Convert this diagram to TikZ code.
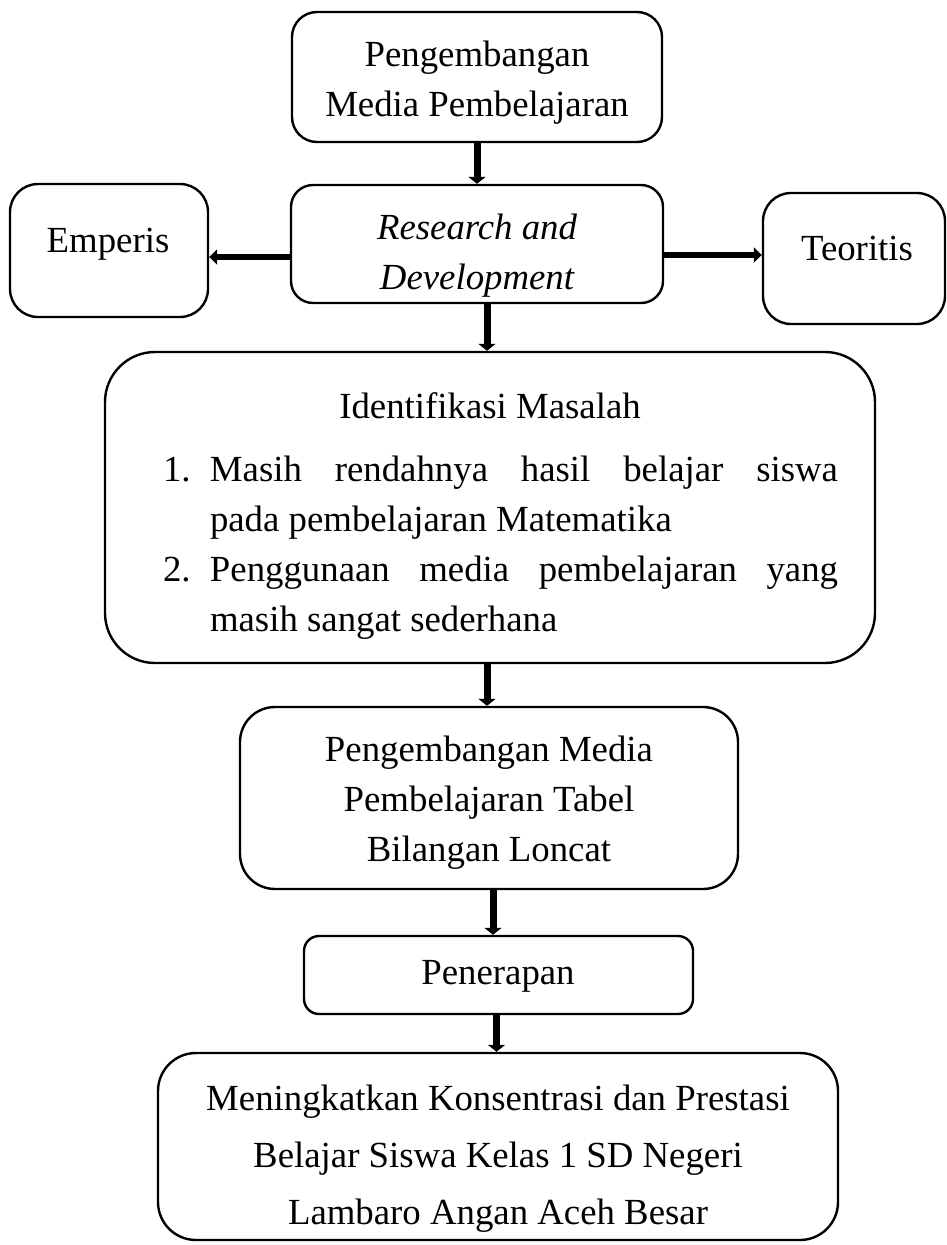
\documentclass[tikz,border=0pt]{standalone}
\usepackage{fontspec}
\setmainfont{Liberation Serif}
\usetikzlibrary{arrows.meta,calc}
\begin{document}
\begin{tikzpicture}[x=1pt,y=-1pt,
  box/.style={draw, line width=2.4pt, inner sep=0pt, anchor=center},
  txt/.style={font=\fontsize{36.8}{50}\selectfont, align=center, inner sep=0pt},
  arr/.style={line width=7pt, -{Triangle[width=17pt,length=7pt]}},
  harr/.style={line width=6pt, -{Triangle[width=15pt,length=8pt]}}]
\useasboundingbox (0,0) rectangle (947,1245);

% boxes
\node[box, minimum width=370pt, minimum height=130pt, rounded corners=25pt] (b1) at (477,77) {};
\node[box, minimum width=372pt, minimum height=118pt, rounded corners=22pt] (b2) at (477,244) {};
\node[box, minimum width=198pt, minimum height=133pt, rounded corners=28pt] (em) at (109,250.5) {};
\node[box, minimum width=182pt, minimum height=131pt, rounded corners=28pt] (te) at (854,258.5) {};
\node[box, minimum width=770pt, minimum height=311pt, rounded corners=50pt] (b3) at (490,507.5) {};
\node[box, minimum width=498pt, minimum height=182pt, rounded corners=35pt] (b4) at (489,798) {};
\node[box, minimum width=389pt, minimum height=78pt, rounded corners=15pt] (b5) at (498.5,975) {};
\node[box, minimum width=680pt, minimum height=187pt, rounded corners=38pt] (b6) at (498,1146.5) {};

% texts
\node[txt] (t1) at (477,83) {Pengembangan\\Media Pembelajaran};
\node[txt] (t2) at (477,256) {\itshape Research and\\\itshape Development};
\node[txt] (tem) at (108,244) {Emperis};
\node[txt] (tte) at (857,248) {Teoritis};
\node[txt] (t3) at (490,406) {Identifikasi Masalah};
\node[txt, text width=675pt, align=justify] (t3l) at (500.5,548) {%
  \hangindent=47pt\hangafter=1\makebox[47pt][l]{1.}Masih rendahnya hasil belajar siswa\linebreak pada pembelajaran Matematika\par
  \hangindent=47pt\hangafter=1\makebox[47pt][l]{2.}Penggunaan media pembelajaran yang\linebreak masih sangat sederhana\par};
\node[txt] (t4) at (489,803) {Pengembangan Media\\Pembelajaran Tabel\\Bilangan Loncat};
\node[txt] (t5) at (498,976) {Penerapan};
\node[txt, font=\fontsize{36.8}{57}\selectfont] (t6) at (498,1159) {Meningkatkan Konsentrasi dan Prestasi\\Belajar Siswa Kelas 1 SD Negeri\\Lambaro Angan Aceh Besar};

% connectors
\draw[arr] (b1.south) -- (b2.north);
\coordinate (l1) at ($(b2.west)+(0,13)$);
\draw[harr] (l1) -- (l1 -| em.east);
\coordinate (r1) at ($(b2.east)+(0,11)$);
\draw[harr] (r1) -- (r1 -| te.west);
\coordinate (a2) at ($(b2.south)+(10,0)$);
\draw[arr] (a2) -- (a2 |- b3.north);
\coordinate (a3) at ($(b3.south)+(-3,0)$);
\draw[arr] (a3) -- (a3 |- b4.north);
\coordinate (a4) at ($(b4.south)+(4,0)$);
\draw[arr] (a4) -- (a4 |- b5.north);
\coordinate (a5) at ($(b5.south)+(-2,0)$);
\draw[arr] (a5) -- (a5 |- b6.north);
\end{tikzpicture}
\end{document}
